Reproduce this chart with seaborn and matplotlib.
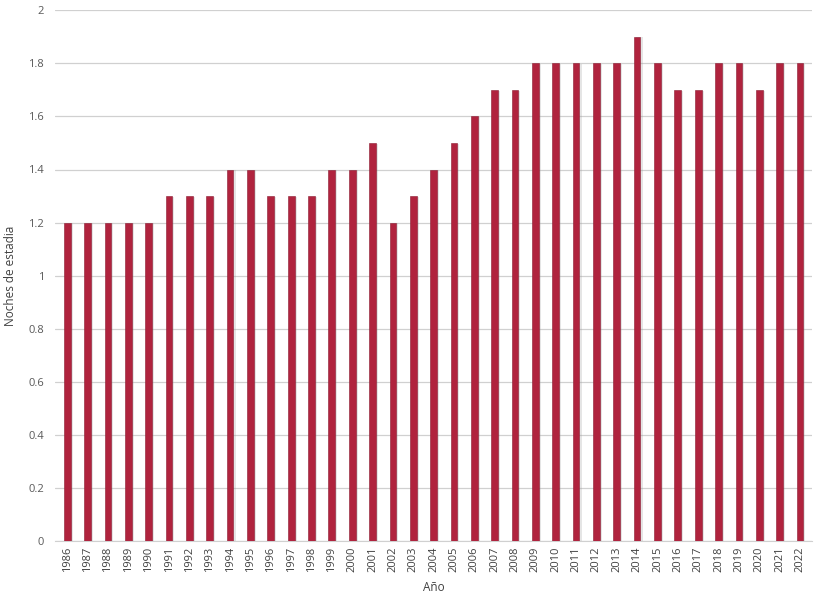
import pandas as pd
import numpy as np
import matplotlib.pyplot as plt
import matplotlib.patheffects as pe
import seaborn as sns

# datos
anios = [str(a) for a in range(1986, 2023)]
noches = [1.2, 1.2, 1.2, 1.2, 1.2, 1.3, 1.3, 1.3, 1.4, 1.4,
          1.3, 1.3, 1.3, 1.4, 1.4, 1.5, 1.2, 1.3, 1.4, 1.5,
          1.6, 1.7, 1.7, 1.8, 1.8, 1.8, 1.8, 1.8, 1.9, 1.8,
          1.7, 1.7, 1.8, 1.8, 1.7, 1.8, 1.8]

df = pd.DataFrame({"Año": anios, "Noches": noches})

sns.set_style("white")
plt.rcParams['font.family'] = ['Open Sans', 'DejaVu Sans']

fig = plt.figure(figsize=(8.22, 6.0), dpi=100)
ax = fig.add_axes([0.067, 0.098, 0.921, 0.885])

sns.barplot(data=df, x="Año", y="Noches", color="#b0233e", width=0.33,
            saturation=1, ax=ax, zorder=3)

# sombra suave y borde derecho más oscuro
for p in ax.patches:
    p.set_path_effects([pe.SimplePatchShadow(offset=(1.5, -0.5), shadow_rgbFace="#999999", alpha=0.25),
                        pe.Normal()])
    p.set_edgecolor("#8a1a30")
    p.set_linewidth(0.4)

ax.set_ylim(0, 2)
ax.set_yticks(np.arange(0, 2.01, 0.2))
ax.set_yticklabels(["0", "0.2", "0.4", "0.6", "0.8", "1", "1.2", "1.4", "1.6", "1.8", "2"])
ax.set_xlim(-0.6, len(anios) - 0.4)
ax.yaxis.grid(True, color="#d0d0d0", linewidth=0.9, zorder=0)
ax.set_axisbelow(True)

ax.tick_params(axis="x", rotation=90, labelsize=8, colors="#404040", length=0, pad=4)
ax.tick_params(axis="y", labelsize=8, colors="#595959", length=0, pad=8)
ax.set_xlabel("Año", fontsize=8.5, color="#404040", labelpad=6)
ax.set_ylabel("Noches de estadia", fontsize=8.5, color="#404040", labelpad=8)

for s in ["top", "right", "left"]:
    ax.spines[s].set_visible(False)
ax.spines["bottom"].set_color("#d0d0d0")

plt.savefig("out.png", dpi=100)
